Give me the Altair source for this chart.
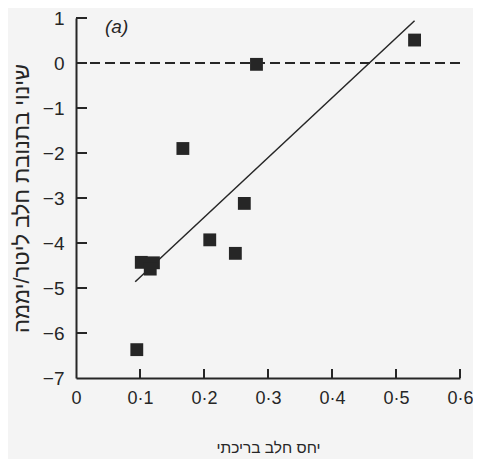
import altair as alt
import pandas as pd

# Scatter data (ratio of cisternal milk vs. change in milk yield)
xs = [0.529, 0.282, 0.167, 0.263, 0.209, 0.249, 0.102, 0.121, 0.116, 0.095]
ys = [0.51, -0.03, -1.90, -3.12, -3.93, -4.23, -4.43, -4.44, -4.58, -6.37]

# Regression line end points
fit_x = [0.0925, 0.529]
fit_y = [-4.86, 0.94]

x_tick_vals = [0.1, 0.2, 0.3, 0.4, 0.5, 0.6]
x_label_vals = [0, 0.1, 0.2, 0.3, 0.4, 0.5, 0.6]
y_tick_vals = [1, 0, -1, -2, -3, -4, -5, -6]
y_label_vals = [1, 0, -1, -2, -3, -4, -5, -6, -7]

x_title = "יחס חלב בריכתי"
y_title = "שינוי בתנובת חלב ליטר/יממה"
panel_label = "(a)"

W, H = 384, 360
INK = "#262626"
FONT = "Liberation Sans"

pts = pd.DataFrame({"x": xs, "y": ys})
fit = pd.DataFrame({"x": fit_x, "y": fit_y})
zero = pd.DataFrame({"y": [0]})
xt = pd.DataFrame({"tx": x_tick_vals})
yt = pd.DataFrame({"ty": y_tick_vals})

xscale = alt.Scale(domain=[0, 0.6], nice=False, zero=False)
yscale = alt.Scale(domain=[-7, 1], nice=False, zero=False)

xaxis = alt.Axis(
    values=x_label_vals, grid=False, ticks=False, domain=True,
    domainColor=INK, domainWidth=2, labelColor=INK, labelFont=FONT,
    labelFontSize=18, labelPadding=11, labelFlush=False,
    labelExpr="datum.value == 0 ? '0' : replace(format(datum.value, '.1f'), '.', '·')",
    title=x_title, titleFont=FONT, titleFontSize=15.5, titleFontWeight="normal",
    titleColor=INK, titlePadding=33,
)
yaxis = alt.Axis(
    values=y_label_vals, grid=False, ticks=False, domain=True,
    domainColor=INK, domainWidth=2, labelColor=INK, labelFont=FONT,
    labelFontSize=19, labelPadding=12, format="d", labelFlush=False,
    title=y_title, titleFont=FONT, titleFontSize=22, titleFontWeight="normal",
    titleColor=INK, titlePadding=9,
)

points = alt.Chart(pts).mark_square(size=165, color=INK, opacity=1).encode(
    x=alt.X("x:Q", scale=xscale, axis=xaxis),
    y=alt.Y("y:Q", scale=yscale, axis=yaxis),
)

line = alt.Chart(fit).mark_line(color=INK, strokeWidth=1.5).encode(
    x=alt.X("x:Q", scale=xscale),
    y=alt.Y("y:Q", scale=yscale),
)

dashed = alt.Chart(zero).mark_rule(color=INK, strokeWidth=2, strokeDash=[10, 5]).encode(
    y=alt.Y("y:Q", scale=yscale),
)

yticks = alt.Chart(yt).mark_rule(color=INK, strokeWidth=2).encode(
    y=alt.Y("ty:Q", scale=yscale),
    x=alt.value(0),
    x2=alt.value(11),
)

xticks = alt.Chart(xt).mark_rule(color=INK, strokeWidth=2).encode(
    x=alt.X("tx:Q", scale=xscale),
    y=alt.value(H),
    y2=alt.value(H - 9),
)

label = alt.Chart(pd.DataFrame({"t": [panel_label]})).mark_text(
    font=FONT, fontSize=19, fontStyle="italic", color=INK, align="left", baseline="middle"
).encode(text="t:N", x=alt.value(29), y=alt.value(9))

chart = alt.layer(points, line, dashed, yticks, xticks, label).properties(
    width=W, height=H,
    autosize=alt.AutoSizeParams(type="none"),
    padding={"left": 68, "top": 10, "right": 13, "bottom": 81},
    background="#f4f4f4",
).configure_view(stroke=None)

chart.save("out.html", embed_options={"renderer": "svg", "actions": False})
